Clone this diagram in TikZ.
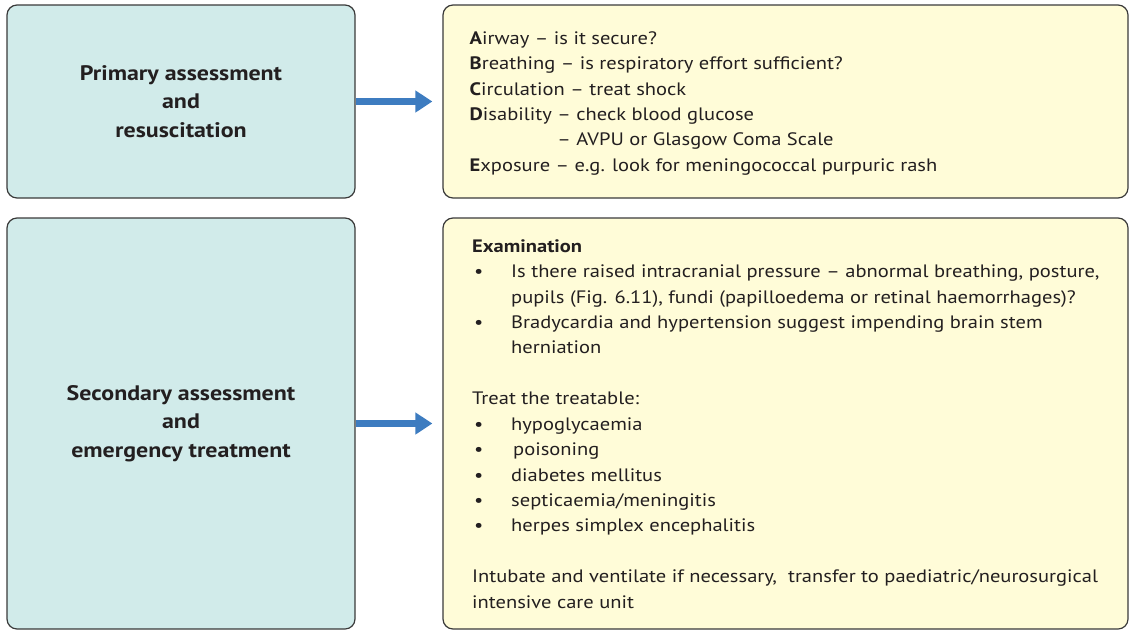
\documentclass[tikz,border=0pt]{standalone}
\usepackage{fontspec}
\setmainfont[FakeStretch=1.14]{PT Sans}
\usetikzlibrary{arrows.meta}
\definecolor{tealfill}{HTML}{D1EBEA}
\definecolor{yelfill}{HTML}{FFFCD8}
\definecolor{arrblue}{HTML}{3D7CC0}
\definecolor{edge}{HTML}{3A3A3A}
\definecolor{txt}{HTML}{231F20}
\newcommand\itembul{\makebox[39pt][l]{\hspace{2pt}•}}
\tikzset{
  panel/.style={draw=edge, line width=1.2pt, rounded corners=10pt, inner sep=0pt},
  titlebox/.style={panel, fill=tealfill, minimum width=348pt, text=txt, align=center,
    font=\fontsize{21}{28.5}\selectfont\bfseries},
  infobox/.style={panel, fill=yelfill, minimum width=685pt},
  infotext/.style={anchor=north west, inner sep=0pt, align=left, text=txt,
    font=\fontsize{18}{25.43}\selectfont},
  flow/.style={draw=arrblue, line width=7pt, -{Triangle[length=17pt,width=21pt]}, shorten >=10pt}
}
\begin{document}
\begin{tikzpicture}[x=1pt,y=-1pt]
\useasboundingbox (0,0) rectangle (1129,630);
\node[titlebox, minimum height=193pt] (prim) at (181,101.5) {Primary assessment\\and\\resuscitation};
\node[titlebox, minimum height=411pt] (sec) at (181,423.5) {Secondary assessment\\and\\emergency treatment};
\node[infobox, minimum height=193pt] (abc) at (785.5,101.5) {};
\node[infobox, minimum height=411pt] (exam) at (785.5,423.5) {};
\node[infotext] (abctext) at (469.5,26.2) {\strut\textbf{A}irway – is it secure?\\
\strut\textbf{B}reathing – is respiratory effort sufficient?\\
\strut\textbf{C}irculation – treat shock\\
\strut\textbf{D}isability – check blood glucose\\
\strut\phantom{\textbf{D}isability }– AVPU or Glasgow Coma Scale\\
\strut\textbf{E}xposure – e.g. look for meningococcal purpuric rash};
\node[infotext] (examtext) at (472,234.2) {\strut\textbf{Examination}\\
\strut\itembul Is there raised intracranial pressure – abnormal breathing, posture,\\
\strut\hspace{39pt}pupils (Fig. 6.11), fundi (papilloedema or retinal haemorrhages)?\\
\strut\itembul Bradycardia and hypertension suggest impending brain stem\\
\strut\hspace{39pt}herniation\\
\strut\\
\strut Treat the treatable:\\
\strut\itembul hypoglycaemia\\
\strut\itembul\hspace{2pt}poisoning\\
\strut\itembul diabetes mellitus\\
\strut\itembul septicaemia/meningitis\\
\strut\itembul herpes simplex encephalitis\\
\strut\\
\strut Intubate and ventilate if necessary,\ \ transfer to paediatric/neurosurgical\\
\strut intensive care unit};
\draw[flow] (prim.east) -- (abc.west);
\draw[flow] (sec.east) -- (exam.west);
\end{tikzpicture}
\end{document}
